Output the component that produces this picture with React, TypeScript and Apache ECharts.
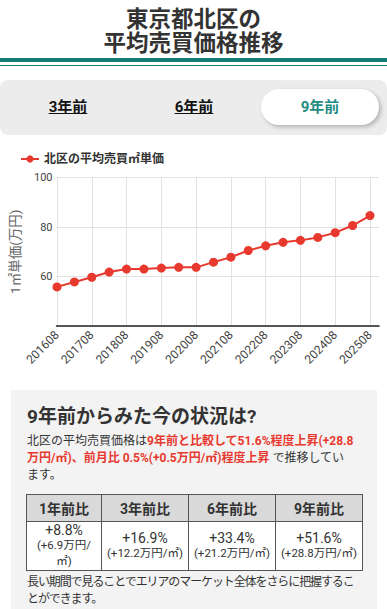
import React, { useEffect, useRef } from "react";
import * as echarts from "echarts";

const titleLines = ["東京都北区の", "平均売買価格推移"];
const tabLabels = ["3年前", "6年前", "9年前"];
const seriesName = "北区の平均売買㎡単価";
const yAxisName = "1㎡単価(万円)";
const categories = [
  "201608", "201702", "201708", "201802", "201808", "201902", "201908",
  "202002", "202008", "202102", "202108", "202202", "202208", "202302",
  "202308", "202402", "202408", "202502", "202508",
];
const prices = [
  55.8, 57.8, 59.7, 61.8, 63.0, 63.0, 63.4, 63.7, 63.7, 65.8,
  67.8, 70.5, 72.4, 73.8, 74.6, 75.8, 77.7, 80.6, 84.6,
];
const yMin = 40;
const yMax = 100;
const yStep = 20;

const headingText = "9年前からみた今の状況は?";
// paragraph lines: [normal text, highlighted text, normal text]
const paraLines: [string, string, string][] = [
  ["北区の平均売買価格は", "9年前と比較して51.6%程度上昇(+28.8", ""],
  ["", "万円/㎡)、前月比 0.5%(+0.5万円/㎡)程度上昇", " で推移してい"],
  ["ます。", "", ""],
];
const tableHeaders = ["1年前比", "3年前比", "6年前比", "9年前比"];
const tablePct = ["+8.8%", "+16.9%", "+33.4%", "+51.6%"];
const tableAmt = ["(+6.9万円/㎡)", "(+12.2万円/㎡)", "(+21.2万円/㎡)", "(+28.8万円/㎡)"];
const footerText = "長い期間で見ることでエリアのマーケット全体をさらに把握することができます。";

const FONT = "Roboto, 'Noto Sans CJK JP', sans-serif";
const TEAL = "#127d73";
const RED = "#e8392f";

function Chart() {
  const ref = useRef<HTMLDivElement>(null);
  useEffect(() => {
    if (!ref.current) return;
    const chart = echarts.init(ref.current, undefined, { renderer: "svg" });
    chart.setOption({
      animation: false,
      textStyle: { fontFamily: FONT },
      legend: {
        data: [seriesName],
        left: 15,
        top: 8,
        itemWidth: 18,
        itemHeight: 9,
        textStyle: { fontSize: 12, fontWeight: "bold", color: "#333", fontFamily: FONT },
      },
      grid: [
        { left: 57, right: 17, top: 37.5, bottom: 64 },
        { left: 49, right: 8, top: 37.5, bottom: 64 },
      ],
      xAxis: [
        {
          type: "category",
          gridIndex: 0,
          data: categories,
          boundaryGap: false,
          axisLine: { show: false },
          axisTick: { show: false },
          axisLabel: {
            interval: 1,
            rotate: 45,
            fontSize: 12,
            color: "#444",
            margin: 7,
          },
          splitLine: { show: true, lineStyle: { color: "#e2e2e2", width: 1 } },
        },
        {
          type: "value",
          gridIndex: 1,
          min: 0,
          max: 1,
          axisLine: { show: true, onZero: false, lineStyle: { color: "#222", width: 1.5 } },
          axisTick: { show: false },
          axisLabel: { show: false },
          splitLine: { show: false },
        },
      ],
      yAxis: [
        {
          type: "value",
          gridIndex: 0,
          min: yMin,
          max: yMax,
          interval: yStep,
          show: false,
          splitLine: { show: false },
        },
        {
          type: "value",
          gridIndex: 1,
          min: yMin,
          max: yMax,
          interval: yStep,
          name: yAxisName,
          nameLocation: "middle",
          nameGap: 35,
          nameTextStyle: { fontSize: 13.5, color: "#666", fontFamily: FONT },
          axisLine: { show: false },
          axisTick: { show: false },
          axisLabel: { fontSize: 11, color: "#444", margin: 4, showMinLabel: false },
          splitLine: { show: true, lineStyle: { color: "#e2e2e2", width: 1 } },
        },
      ],
      series: [
        {
          name: seriesName,
          type: "line",
          xAxisIndex: 0,
          yAxisIndex: 0,
          data: prices,
          symbol: "circle",
          symbolSize: 9,
          lineStyle: { color: RED, width: 2 },
          itemStyle: { color: RED },
        },
      ],
    });
    return () => chart.dispose();
  }, []);
  return <div ref={ref} style={{ position: "absolute", left: 0, top: 140, width: 387, height: 250 }} />;
}

export default function App() {
  const cell: React.CSSProperties = {
    border: "1px solid #555",
    textAlign: "center",
    padding: "0 4px",
    color: "#333",
  };
  return (
    <div style={{ position: "relative", width: 387, height: 609, overflow: "hidden", fontFamily: FONT, background: "#fff" }}>
      <style>{"body{margin:0}"}</style>
      <div
        style={{
          position: "absolute",
          top: 6.5,
          left: 0,
          width: 387,
          textAlign: "center",
          fontSize: 22.5,
          lineHeight: "24px",
          fontWeight: "bold",
          color: "#333",
        }}
      >
        {titleLines[0]}
        <br />
        {titleLines[1]}
      </div>
      <div style={{ position: "absolute", top: 58, left: 0, width: 387, height: 4, background: TEAL }} />
      <div style={{ position: "absolute", top: 64.8, left: 0, width: 387, height: 1.5, background: TEAL }} />

      <div style={{ position: "absolute", top: 80, left: 0, width: 387, height: 55, background: "#ececec", borderRadius: 8 }} />
      <div
        style={{
          position: "absolute",
          left: 261,
          top: 89,
          width: 118,
          height: 36,
          borderRadius: 18,
          background: "#fff",
          boxShadow: "2px 2px 4px rgba(0,0,0,0.25)",
        }}
      />
      {[68, 194, 320].map((cx, i) => (
        <div
          key={i}
          style={{
            position: "absolute",
            left: cx - 50,
            width: 100,
            top: 97,
            lineHeight: "20px",
            textAlign: "center",
            fontSize: 15,
            fontWeight: "bold",
            color: i === 2 ? "#1f8c82" : "#111",
            textDecoration: i === 2 ? "none" : "underline",
          }}
        >
          {tabLabels[i]}
        </div>
      ))}

      <Chart />

      <div style={{ position: "absolute", left: 11, top: 390, width: 366, height: 219, background: "#f3f3f3" }}>
        <div
          style={{
            position: "absolute",
            left: 16,
            top: 15,
            fontSize: 19,
            lineHeight: "24px",
            fontWeight: "bold",
            color: "#333",
            whiteSpace: "nowrap",
          }}
        >
          {headingText}
        </div>
        <div
          style={{
            position: "absolute",
            left: 16,
            top: 43,
            width: 340,
            fontSize: 12,
            lineHeight: "17px",
            color: "#333",
          }}
        >
          {paraLines.map((ln, i) => (
            <div key={i} style={{ whiteSpace: "pre", height: 17 }}>
              {ln[0]}
              {ln[1] ? <span style={{ color: RED, fontWeight: "bold" }}>{ln[1]}</span> : null}
              {ln[2]}
            </div>
          ))}
        </div>
        <table
          style={{
            position: "absolute",
            left: 15,
            top: 104,
            width: 336,
            borderCollapse: "collapse",
            tableLayout: "fixed",
            background: "#fff",
          }}
        >
          <colgroup>
            <col style={{ width: 75 }} />
            <col style={{ width: 87 }} />
            <col style={{ width: 87 }} />
            <col style={{ width: 87 }} />
          </colgroup>
          <thead>
            <tr style={{ height: 27 }}>
              {tableHeaders.map((h, i) => (
                <th key={i} style={{ ...cell, background: "#d9d9d9", fontSize: 14, fontWeight: "bold" }}>
                  {h}
                </th>
              ))}
            </tr>
          </thead>
          <tbody>
            <tr style={{ height: 49 }}>
              {tablePct.map((p, i) => (
                <td key={i} style={{ ...cell, lineHeight: "15.5px" }}>
                  <div style={{ fontSize: 14 }}>{p}</div>
                  <div style={{ fontSize: 11.5 }}>{tableAmt[i]}</div>
                </td>
              ))}
            </tr>
          </tbody>
        </table>
        <div
          style={{
            position: "absolute",
            left: 16,
            top: 184,
            width: 336,
            fontSize: 12,
            lineHeight: "16.5px",
            letterSpacing: -1.1,
            color: "#333",
          }}
        >
          {footerText}
        </div>
      </div>
    </div>
  );
}
